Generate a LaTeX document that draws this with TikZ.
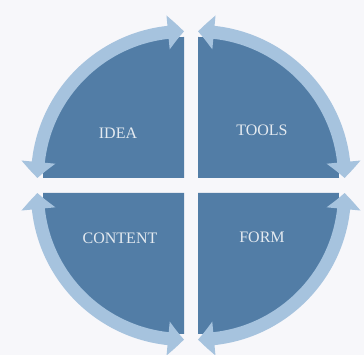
\documentclass[tikz,border=0pt]{standalone}
\usepackage{fontspec}
\setmainfont{Liberation Serif}
\usetikzlibrary{arrows.meta,bending}
\definecolor{quarterblue}{RGB}{82,125,166}
\definecolor{bandblue}{RGB}{166,195,222}
\definecolor{paper}{RGB}{247,247,250}
\definecolor{labelwhite}{RGB}{228,234,240}
\tikzset{
	quarter/.style={fill=quarterblue, draw=none},
	band/.style={draw=bandblue, line width=13pt,
		{Triangle[width=33pt,length=16pt,bend]}-{Triangle[width=33pt,length=16pt,bend]}},
	lbl/.style={text=labelwhite, font=\fontsize{16}{19}\selectfont}
}
\begin{document}
\begin{tikzpicture}[x=1pt,y=1pt]
				\fill[paper] (0,0) rectangle (364,355);
				\useasboundingbox (0,0) rectangle (364,355);

				% Idea (top left)
				\fill[quarter] (184,177) -- (184,318) arc[start angle=90,end angle=180,radius=141pt] -- cycle;
				\draw[band] (184,323.5) arc[start angle=90,end angle=180,radius=146.5pt];
				\node[lbl] (idea) at (118,222) {IDEA};

				% Tools (top right)
				\fill[quarter] (198,177) -- (339,177) arc[start angle=0,end angle=90,radius=141pt] -- cycle;
				\draw[band] (198,323.5) arc[start angle=90,end angle=0,radius=146.5pt];
				\node[lbl] (tools) at (262,225) {TOOLS};

				% Form (bottom right)
				\fill[quarter] (198,162) -- (198,21) arc[start angle=270,end angle=360,radius=141pt] -- cycle;
				\draw[band] (344.5,162) arc[start angle=0,end angle=-90,radius=146.5pt];
				\node[lbl] (form) at (262,118) {FORM};

				% Content (bottom left)
				\fill[quarter] (184,162) -- (43,162) arc[start angle=180,end angle=270,radius=141pt] -- cycle;
				\draw[band] (37.5,162) arc[start angle=180,end angle=270,radius=146.5pt];
				\node[lbl] (content) at (120,117) {CONTENT};
			\end{tikzpicture}
\end{document}
